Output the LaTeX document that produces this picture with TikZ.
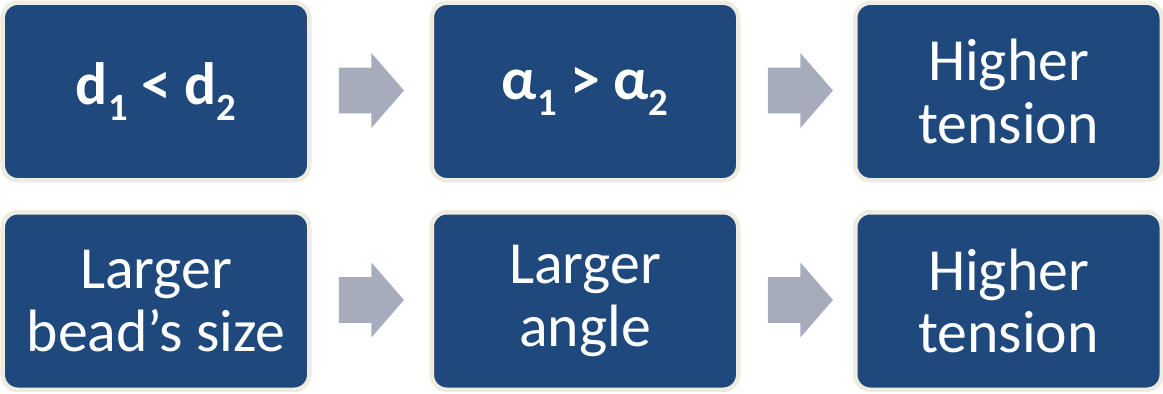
\documentclass[tikz,border=0pt]{standalone}
\usepackage{fontspec}
\setmainfont{Carlito}
\usetikzlibrary{shapes.arrows}
\definecolor{boxblue}{RGB}{31,73,125}
\definecolor{boxrim}{RGB}{238,236,225}
\definecolor{arrowgray}{RGB}{166,172,188}
\newcommand{\lowsub}[1]{\raisebox{-0.26em}{\fontsize{22}{22}\selectfont #1}}

\begin{document}
\begin{tikzpicture}[
        box/.style={draw=boxrim, line width=0.09cm, fill=boxblue, rounded corners=0.3cm,
                   minimum width=6.13cm, minimum height=3.55cm, align=center,
                   text=white, inner sep=0pt, font=\fontsize{34}{35.8}\selectfont},
        blockarrow/.style={single arrow, fill=arrowgray, minimum height=1.3cm,
                   inner xsep=0pt, inner ysep=0.45cm, single arrow head extend=0.29cm,
                   single arrow tip angle=98}
    ]
        \useasboundingbox (0,0) rectangle (23.26,-7.88);

        % top row
        \node[box] (dsize) at (3.12,-1.83) {\textbf{d\lowsub{1} < d\lowsub{2}}};
        \node[box] (alpha) at (11.70,-1.83) {\textbf{α\lowsub{1} > α\lowsub{2}}};
        \node[box] (tensiontop) at (20.17,-1.83) {Higher\\tension};

        \node[blockarrow] (arrowa) at (7.23,-1.81) {};
        \node[blockarrow] (arrowb) at (15.81,-1.81) {};

        % bottom row
        \node[box] (bead) at (3.12,-6.02) {Larger\\bead’s size};
        \node[box] (angle) at (11.70,-6.02) {Larger\\angle};
        \node[box] (tensionbottom) at (20.17,-6.02) {Higher\\tension};

        \node[blockarrow] (arrowc) at (7.23,-6.0) {};
        \node[blockarrow] (arrowd) at (15.81,-6.0) {};
    \end{tikzpicture}
\end{document}
